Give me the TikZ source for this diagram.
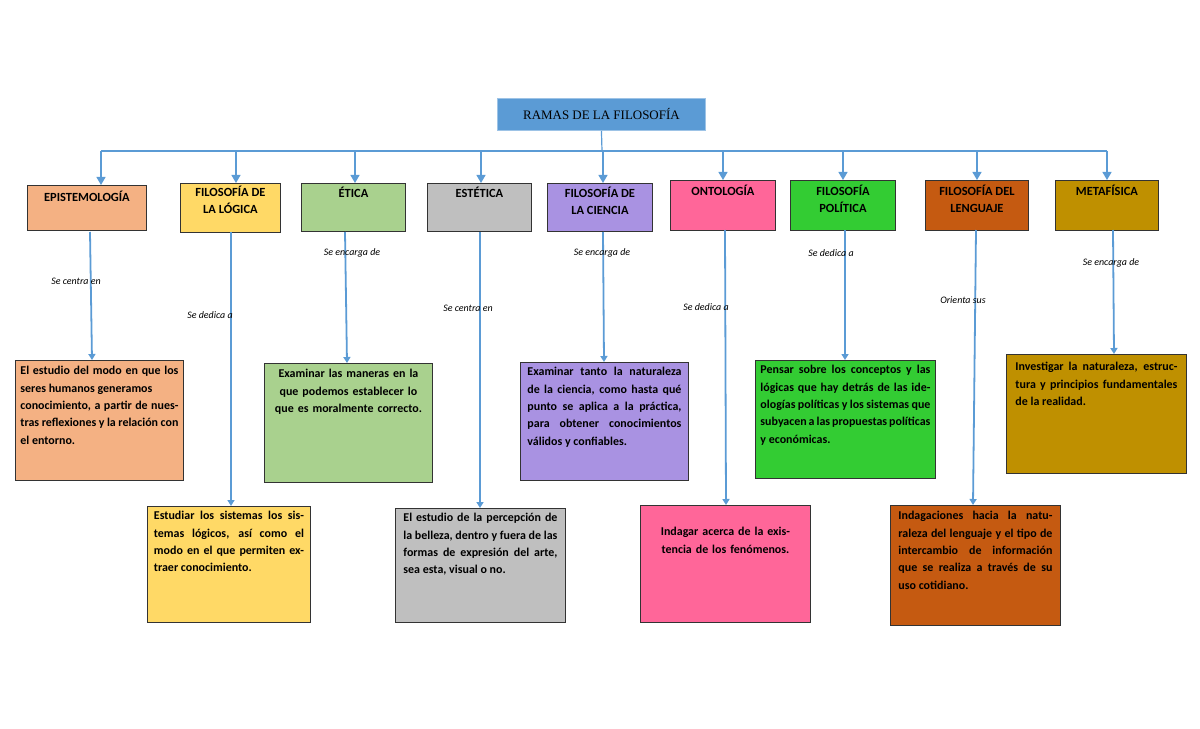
\documentclass[tikz,border=0pt]{standalone}
\usepackage{fontspec}
\setmainfont{Carlito}
\newfontfamily\serifx{Liberation Serif}
\usetikzlibrary{arrows.meta,calc}
\definecolor{ln}{HTML}{5B9BD5}
\definecolor{cEp}{HTML}{F4B183}
\definecolor{cLo}{HTML}{FFD966}
\definecolor{cEt}{HTML}{A9D18E}
\definecolor{cEs}{HTML}{BFBFBF}
\definecolor{cCi}{HTML}{A992E2}
\definecolor{cOn}{HTML}{FF6699}
\definecolor{cPo}{HTML}{33CC33}
\definecolor{cLe}{HTML}{C55A11}
\definecolor{cMe}{HTML}{BF9000}
\begin{document}
\begin{tikzpicture}[x=1bp,y=-1bp,
  box/.style={draw=black!80,line width=0.9pt,anchor=north west,inner sep=0pt},
  ttl/.style={anchor=north,align=center,font=\fontsize{12.5}{17}\selectfont\bfseries,inner sep=0pt},
  txt/.style={anchor=north,font=\fontsize{12}{17.5}\selectfont\bfseries,inner sep=0pt},
  lbl/.style={font=\fontsize{10}{12}\selectfont\itshape},
  arr/.style={draw=ln,line width=1.8pt,-{Triangle[length=6bp,width=7bp]}},
  thin/.style={draw=ln,line width=1.2pt,-{Triangle[length=8bp,width=9bp]}}]
\useasboundingbox (0,0) rectangle (1200,729);
\def\bx#1#2#3#4#5#6{\node[box,fill=#2,minimum width=#5bp-#3bp,minimum height=#6bp-#4bp] (#1) at (#3,#4) {};}
% title
\node[box,draw=ln!60,fill=ln,minimum width=208bp,minimum height=32bp] (T) at (497,98) {};
\node[font=\serifx\fontsize{13}{15}\selectfont] at (T.center) {RAMAS DE LA FILOSOFÍA};
% branches
\bx{A}{cEp}{27}{185}{146}{230}
\bx{B}{cLo}{180}{183}{280}{232}
\bx{C}{cEt}{301}{183}{405}{231}
\bx{D}{cEs}{427}{183}{531}{231}
\bx{E}{cCi}{547}{183}{652}{231}
\bx{F}{cOn}{670}{180}{775}{230}
\bx{G}{cPo}{790}{180}{895}{230}
\bx{H}{cLe}{925}{180}{1028}{230}
\bx{I}{cMe}{1055}{180}{1158}{230}
\node[ttl] at ($(A.north)+(0,6)$) {EPISTEMOLOGÍA};
\node[ttl] at ($(B.north)+(0,3)$) {FILOSOFÍA DE\\LA LÓGICA};
\node[ttl] at ($(C.north)+(0,4)$) {ÉTICA};
\node[ttl] at ($(D.north)+(0,4)$) {ESTÉTICA};
\node[ttl] at ($(E.north)+(0,4)$) {FILOSOFÍA DE\\LA CIENCIA};
\node[ttl] at ($(F.north)+(0,5)$) {ONTOLOGÍA};
\node[ttl] at ($(G.north)+(0,5)$) {FILOSOFÍA\\POLÍTICA};
\node[ttl] at ($(H.north)+(0,5)$) {FILOSOFÍA DEL\\LENGUAJE};
\node[ttl] at ($(I.north)+(0,5)$) {METAFÍSICA};
% descriptions
\bx{a}{cEp}{15}{360}{183}{480}
\bx{b}{cLo}{147}{506}{310}{622}
\bx{c}{cEt}{264}{363}{432}{482}
\bx{d}{cEs}{395}{508}{565}{622}
\bx{e}{cCi}{520}{362}{688}{480}
\bx{f}{cOn}{640}{505}{810}{622}
\bx{g}{cPo}{755}{360}{935}{478}
\bx{h}{cLe}{890}{505}{1060}{625}
\bx{i}{cMe}{1006}{354}{1186}{473}
\node[txt,text width=158bp,align=justify] at ($(a.north)+(0,6)$) {El estudio del modo en que los seres humanos generamos\\conocimiento, a partir de nuestras reflexiones y la relación con el entorno.};
\node[txt,text width=150bp,align=justify] at ($(b.north)+(0,5)$) {Estudiar los sistemas los sistemas lógicos, así como el modo en el que permiten extraer conocimiento.};
\node[txt,text width=150bp,align=center] at ($(c.north)+(0,6)$) {Examinar las maneras en la que podemos establecer lo que es moralmente correcto.};
\node[txt,text width=154bp,align=justify] at ($(d.north)+(0,5)$) {El estudio de la percepción de la belleza, dentro y fuera de las formas de expresión del arte, sea esta, visual o no.};
\node[txt,text width=154bp,align=justify] at ($(e.north)+(0,5)$) {Examinar tanto la naturaleza de la ciencia, como hasta qué punto se aplica a la práctica, para obtener conocimientos válidos y confiables.};
\node[txt,text width=130bp,align=center] at ($(f.north)+(0,22)$) {Indagar acerca de la existencia de los fenómenos.};
\node[txt,text width=170bp,align=justify] at ($(g.north)+(0,5)$) {Pensar sobre los conceptos y las lógicas que hay detrás de las ideologías políticas y los sistemas que subyacen a las propuestas políticas y económicas.};
\node[txt,text width=154bp,align=justify] at ($(h.north)+(0,6)$) {Indagaciones hacia la naturaleza del lenguaje y el tipo de intercambio de información que se realiza a través de su uso cotidiano.};
\node[txt,text width=162bp,align=justify] at ($(i.north)+(0,8)$) {Investigar la naturaleza, estructura y principios fundamentales de la realidad.};
% tree connectors
\coordinate (j) at (602,151);
\draw[draw=ln,line width=1.2pt] (T.south) -- (j);
\draw[draw=ln,line width=1.2pt] (101,151) -- (1107,151);
\foreach \n/\x in {A/101,B/236,C/355,D/481,E/603,F/723,G/843,H/977,I/1107}
  \draw[thin] (\x,151) -- ({\x},151 |- \n.north);
% vertical connectors
\draw[arr] (90,232) -- (92,360);
\draw[arr] (231,232) -- (231,506);
\draw[arr] (345,232) -- (347,363);
\draw[arr] (480,232) -- (480,508);
\draw[arr] (603,232) -- (604,362);
\draw[arr] (725,230) -- (726,505);
\draw[arr] (845,230) -- (845,360);
\draw[arr] (976,230) -- (973,505);
\draw[arr] (1113,230) -- (1114,354);
% labels
\node[lbl] at (76,281) {Se centra en};
\node[lbl] at (210,315) {Se dedica a};
\node[lbl] at (352,253) {Se encarga de};
\node[lbl] at (468,308) {Se centra en};
\node[lbl] at (602,253) {Se encarga de};
\node[lbl] at (706,307) {Se dedica a};
\node[lbl] at (831,253) {Se dedica a};
\node[lbl] at (963,300) {Orienta sus};
\node[lbl] at (1111,263) {Se encarga de};
\end{tikzpicture}
\end{document}
